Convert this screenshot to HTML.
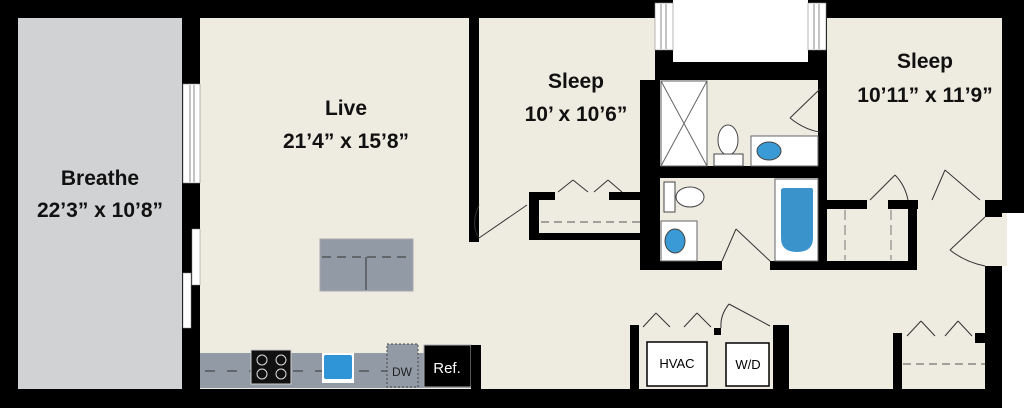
<!DOCTYPE html>
<html><head><style>body{margin:0;background:#fff}svg{display:block}text{font-family:"Liberation Sans",sans-serif}</style></head><body>
<svg width="1024" height="408" viewBox="0 0 1024 408" xmlns="http://www.w3.org/2000/svg">
<rect x="0" y="0" width="1024" height="408" fill="#000"/>
<rect x="673" y="0" width="135" height="62" fill="#fff"/>
<rect x="1002" y="266" width="22" height="142" fill="#fff"/>
<rect x="989" y="213" width="35" height="53" fill="#fff"/>
<rect x="18" y="18" width="164" height="371" fill="#d1d2d4"/>
<rect x="200" y="18" width="269" height="371" fill="#eeebe1"/>
<rect x="469" y="242" width="520" height="147" fill="#eeebe1"/>
<rect x="479" y="18" width="176" height="224" fill="#eeebe1"/>
<rect x="827" y="18" width="180" height="182" fill="#eeebe1"/>
<rect x="827" y="200" width="162" height="70" fill="#eeebe1"/>
<rect x="917" y="200" width="90" height="66" fill="#eeebe1"/>
<rect x="469" y="18" width="10" height="224" fill="#000"/>
<rect x="655" y="62" width="172" height="18" fill="#000"/>
<rect x="640" y="80" width="20" height="190" fill="#000"/>
<rect x="655" y="80" width="5" height="112" fill="#000"/>
<rect x="660" y="80" width="158" height="86" fill="#eeebe1"/>
<rect x="660" y="166" width="158" height="12" fill="#000"/>
<rect x="660" y="178" width="158" height="83" fill="#eeebe1"/>
<rect x="818" y="80" width="9" height="9" fill="#000"/>
<rect x="818" y="132" width="9" height="138" fill="#000"/>
<rect x="640" y="261" width="82" height="9" fill="#000"/>
<rect x="770" y="261" width="147" height="9" fill="#000"/>
<rect x="827" y="200" width="40" height="9" fill="#000"/>
<rect x="888" y="200" width="30" height="9" fill="#000"/>
<rect x="908" y="200" width="9" height="70" fill="#000"/>
<rect x="985" y="200" width="17" height="17" fill="#000"/>
<rect x="985" y="266" width="17" height="123" fill="#000"/>
<rect x="1002" y="18" width="5" height="195" fill="#000"/>
<rect x="529" y="192" width="111" height="48" fill="#000"/>
<rect x="539" y="200" width="101" height="33" fill="#eeebe1"/>
<rect x="555" y="192" width="54" height="8" fill="#eeebe1"/>
<line x1="541" y1="222" x2="640" y2="222" stroke="#555" stroke-dasharray="8,5"/>
<line x1="845" y1="210" x2="845" y2="260" stroke="#777" stroke-dasharray="10,5"/>
<line x1="891" y1="210" x2="891" y2="260" stroke="#777" stroke-dasharray="10,5"/>
<rect x="630" y="325" width="9" height="64" fill="#000"/>
<rect x="773" y="325" width="16" height="64" fill="#000"/>
<rect x="714" y="328" width="7" height="7" fill="#000"/>
<rect x="647" y="342" width="60" height="44" fill="#fff" stroke="#000" stroke-width="1.5"/>
<rect x="726" y="343" width="43" height="43" fill="#fff" stroke="#000" stroke-width="1.5"/>
<text x="677" y="368" font-size="13" text-anchor="middle">HVAC</text>
<text x="748" y="369" font-size="13" text-anchor="middle">W/D</text>
<rect x="893" y="333" width="9" height="56" fill="#000"/>
<rect x="975" y="333" width="10" height="10" fill="#000"/>
<line x1="903" y1="364" x2="985" y2="364" stroke="#555" stroke-dasharray="8,5"/>
<rect x="183" y="84" width="17" height="99" fill="#fff" stroke="#888" stroke-width="0.6"/>
<line x1="190" y1="85" x2="190" y2="182" stroke="#888"/><line x1="194" y1="85" x2="194" y2="182" stroke="#888"/>
<rect x="192" y="229" width="8" height="56" fill="#fff" stroke="#888" stroke-width="0.5"/>
<rect x="183" y="273" width="8" height="55" fill="#fff" stroke="#888" stroke-width="0.5"/>
<rect x="655" y="3" width="18" height="47" fill="#fff" stroke="#888" stroke-width="0.6"/>
<line x1="661" y1="4" x2="661" y2="49" stroke="#888"/><line x1="666" y1="4" x2="666" y2="49" stroke="#888"/>
<rect x="808" y="3" width="18" height="47" fill="#fff" stroke="#888" stroke-width="0.6"/>
<line x1="814" y1="4" x2="814" y2="49" stroke="#888"/><line x1="819" y1="4" x2="819" y2="49" stroke="#888"/>
<rect x="661" y="81" width="46" height="85" fill="#fff" stroke="#666"/>
<line x1="661" y1="81" x2="707" y2="166" stroke="#666"/><line x1="707" y1="81" x2="661" y2="166" stroke="#666"/>
<ellipse cx="728" cy="140" rx="10" ry="15" fill="#fff" stroke="#444"/>
<rect x="714" y="154" width="29" height="12" fill="#fff" stroke="#444"/>
<rect x="751" y="136" width="67" height="30" fill="#fff" stroke="#666"/>
<ellipse cx="769" cy="151" rx="12" ry="9" fill="#3a9ad6" stroke="#444"/>
<rect x="664" y="182" width="11" height="30" fill="#fff" stroke="#444"/>
<ellipse cx="690" cy="197" rx="14" ry="10" fill="#fff" stroke="#444"/>
<rect x="661" y="221" width="36" height="40" fill="#fff" stroke="#666"/>
<ellipse cx="675" cy="241" rx="10" ry="12" fill="#3a9ad6" stroke="#444"/>
<rect x="775" y="179" width="43" height="82" fill="#fff" stroke="#666"/>
<path d="M781 190 Q781 188 785 188 L811 188 Q813 188 813 190 L813 238 Q813 252 797 252 Q781 252 781 238 Z" fill="#3b93cc"/>
<g fill="none" stroke="#333" stroke-width="1">
<line x1="479" y1="238" x2="527" y2="205"/><path d="M479 205 Q470 225 479 238"/>
<line x1="558" y1="192" x2="573" y2="180"/><line x1="573" y1="180" x2="588" y2="192"/>
<line x1="594" y1="192" x2="608" y2="180"/><line x1="608" y1="180" x2="622" y2="192"/>
<line x1="820" y1="89" x2="790" y2="118"/><path d="M790 118 Q805 130 820 132"/>
<line x1="722" y1="261" x2="736" y2="229"/><line x1="736" y1="229" x2="770" y2="261"/>
<line x1="870" y1="200" x2="895" y2="175"/><path d="M895 175 Q905 185 908 200"/>
<line x1="932" y1="200" x2="945" y2="170"/><line x1="945" y1="170" x2="980" y2="200"/>
<line x1="985" y1="217" x2="950" y2="250"/><path d="M950 250 Q965 262 985 266"/>
<line x1="643" y1="327" x2="656" y2="313"/><line x1="656" y1="313" x2="670" y2="327"/>
<line x1="684" y1="327" x2="697" y2="313"/><line x1="697" y1="313" x2="711" y2="327"/>
<line x1="729" y1="304" x2="770" y2="326"/><path d="M729 304 Q720 315 721 328"/>
<line x1="907" y1="336" x2="921" y2="321"/><line x1="921" y1="321" x2="935" y2="336"/>
<line x1="945" y1="336" x2="958" y2="321"/><line x1="958" y1="321" x2="972" y2="336"/>
</g>
<rect x="320" y="239" width="93" height="52" fill="#929ba5" stroke="#aaa"/>
<line x1="322" y1="257" x2="412" y2="257" stroke="#333" stroke-dasharray="9,6"/>
<line x1="366" y1="257" x2="366" y2="290" stroke="#333"/>
<rect x="200" y="353" width="271" height="35" fill="#929ba5"/>
<line x1="205" y1="371" x2="470" y2="371" stroke="#333" stroke-dasharray="10,12"/>
<rect x="251" y="350" width="40" height="34" fill="#111" stroke="#ccc"/>
<g fill="none" stroke="#ddd"><circle cx="262" cy="360" r="5"/><circle cx="281" cy="360" r="5"/><circle cx="262" cy="374" r="5"/><circle cx="281" cy="374" r="5"/></g>
<rect x="322" y="353" width="32" height="30" fill="#fff"/>
<rect x="324" y="355" width="28" height="24" fill="#2f95d6" rx="2"/>
<rect x="387" y="344" width="31" height="43" fill="#929ba5" stroke="#444" stroke-dasharray="2,2"/>
<text x="402" y="376" font-size="12" text-anchor="middle" fill="#222">DW</text>
<rect x="424" y="345" width="47" height="42" fill="#000" stroke="#aaa"/>
<text x="447" y="373" font-size="15" text-anchor="middle" fill="#fff">Ref.</text>
<rect x="471" y="345" width="10" height="44" fill="#000"/>
<g font-weight="bold" font-size="21" text-anchor="middle" fill="#111">
<text x="100" y="185">Breathe</text><text x="100" y="217">22’3” x 10’8”</text>
<text x="346" y="115">Live</text><text x="346" y="148">21’4” x 15’8”</text>
<text x="576" y="88">Sleep</text><text x="576" y="121">10’ x 10’6”</text>
<text x="925" y="68">Sleep</text><text x="925" y="102">10’11” x 11’9”</text>
</g>
</svg>
</body></html>
